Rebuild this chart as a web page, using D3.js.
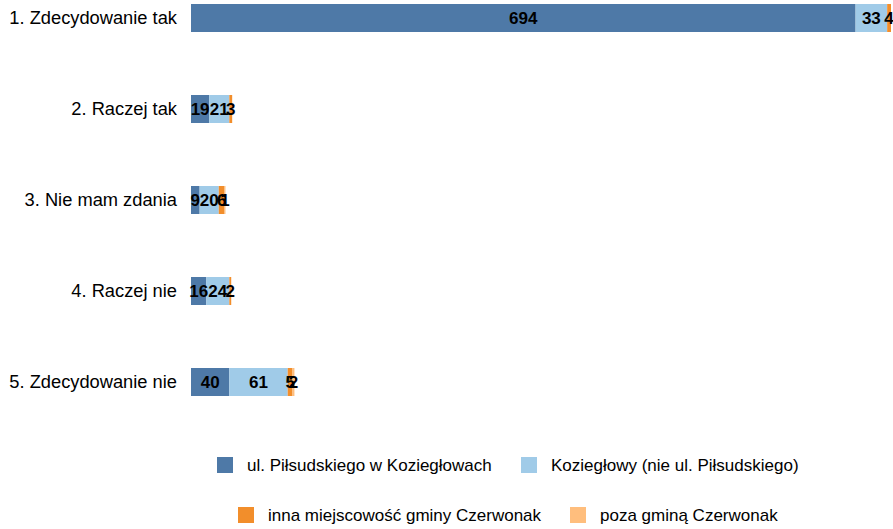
<!DOCTYPE html>
<html><head><meta charset="utf-8">
<script src="https://cdn.jsdelivr.net/npm/d3@7"></script>
<style>body{margin:0;background:#fff}svg{display:block;font-family:"Liberation Sans",Arial,sans-serif}</style>
</head><body><div id="c"></div>
<script>
const categories = ["1. Zdecydowanie tak","2. Raczej tak","3. Nie mam zdania","4. Raczej nie","5. Zdecydowanie nie"];
const seriesNames = ["ul. Piłsudskiego w Koziegłowach","Koziegłowy (nie ul. Piłsudskiego)","inna miejscowość gminy Czerwonak","poza gminą Czerwonak"];
const pilsudskiego = [694,19,9,16,40];
const koziegłowy = [33,21,20,24,61];
const innaGmina = [4,3,6,2,5];
const pozaGmina = [0,0,1,0,2];
const colors = ["#4e79a7","#a0cbe8","#f28e2b","#ffbe7d"];

const W=893,H=529;
const svg=d3.select("#c").append("svg").attr("width",W).attr("height",H);
const series=[pilsudskiego,koziegłowy,innaGmina,pozaGmina];
const rows=categories.map((c,i)=>{const o={cat:c};seriesNames.forEach((s,j)=>o[s]=series[j][i]);return o;});
const stack=d3.stack().keys(seriesNames)(rows);
const maxTotal=d3.max(rows,r=>d3.sum(seriesNames,s=>r[s]));
const x=d3.scaleLinear().domain([0,maxTotal]).range([191,891]);
const y=d3.scaleBand().domain(categories).range([4,4+4*91+28]).paddingInner(63/91).paddingOuter(0);

const yAxis=d3.axisLeft(y).tickSize(0).tickPadding(14);
const ga=svg.append("g").attr("transform","translate(191,0)").call(yAxis);
ga.select(".domain").remove();
ga.selectAll("text").attr("font-size",18.3).attr("fill","#000").attr("font-family","Liberation Sans, Arial, sans-serif");

stack.forEach((layer,j)=>{
  const g=svg.append("g").attr("fill",colors[j]);
  g.selectAll("rect").data(layer).join("rect")
   .attr("x",d=>x(d[0])).attr("width",d=>x(d[1])-x(d[0]))
   .attr("y",(d,i)=>y(categories[i])).attr("height",y.bandwidth());
});
stack.forEach((layer,j)=>{
  svg.append("g").selectAll("text").data(layer.filter(d=>d[1]-d[0]>0)).join("text")
   .attr("x",d=>(x(d[0])+x(d[1]))/2).attr("y",d=>y(d.data.cat)+y.bandwidth()/2)
   .attr("dy","0.36em").attr("text-anchor","middle").attr("font-size",17).attr("font-weight","bold").attr("fill","#000")
   .text(d=>d[1]-d[0]);
});

const legendPos=[[217,465],[521,465],[238,515],[570,515]];
seriesNames.forEach((s,j)=>{
  const [lx,ly]=legendPos[j];
  svg.append("rect").attr("x",lx).attr("y",ly-8).attr("width",16).attr("height",16).attr("fill",colors[j]);
  svg.append("text").attr("x",lx+30).attr("y",ly).attr("dy","0.36em").attr("font-size",17).attr("fill","#000").text(s);
});
</script></body></html>
